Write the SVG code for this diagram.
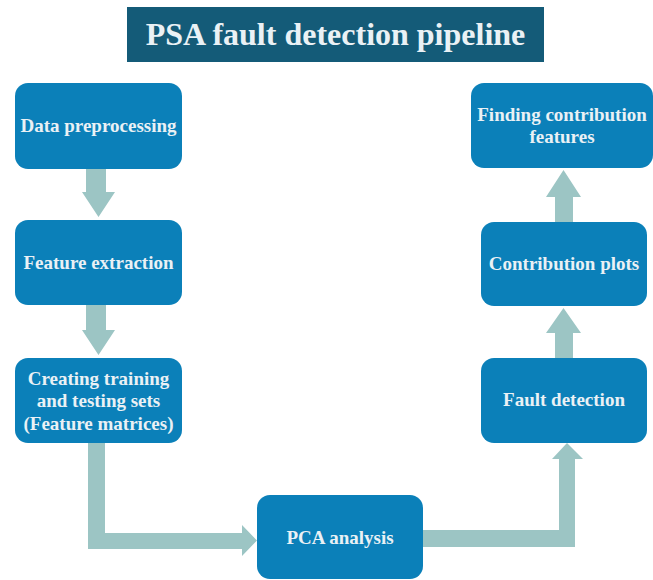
<svg xmlns="http://www.w3.org/2000/svg" width="653" height="580" viewBox="0 0 653 580">
<style>
.box{fill:#0b80b9}
.t{font-family:"Liberation Serif","Times New Roman",serif;font-weight:bold;font-size:19px;fill:#eaf1f5;text-anchor:middle}
.ar{fill:#9cc5c4}
</style>
<rect width="653" height="580" fill="#ffffff"/>
<g id="title">
<rect x="127" y="7" width="417" height="55" fill="#145b78"/>
<text x="335.5" y="45" class="t" style="font-size:32px">PSA fault detection pipeline</text>
</g>
<g id="connectors">
<path class="ar" d="M86 169 H106 V192 H115 L98.5 217 L82 192 H86 Z"/>
<path class="ar" d="M86 305 H106 V330 H115 L98.5 355 L82 330 H86 Z"/>
<path class="ar" d="M88 443 H105 V533 H242 V525 L257 540.5 L242 556 V549 H88 Z"/>
<path class="ar" d="M423 530 H559 V459 H552 L567 443 L583 459 H575 V547 H423 Z"/>
<path class="ar" d="M555 358 V333 H546 L563.5 308 L581 333 H573 V358 Z"/>
<path class="ar" d="M555 222 V197 H546 L563.5 170 L581 197 H573 V222 Z"/>
</g>
<g id="n1"><rect class="box" x="15" y="83" width="167" height="86" rx="13"/><text class="t" x="98.5" y="132">Data preprocessing</text></g>
<g id="n2"><rect class="box" x="15" y="220" width="167" height="85" rx="13"/><text class="t" x="98.5" y="269">Feature extraction</text></g>
<g id="n3"><rect class="box" x="15" y="358" width="167" height="85" rx="13"/><text class="t" x="98.5" y="385">Creating training</text><text class="t" x="98.5" y="407">and testing sets</text><text class="t" x="98.5" y="430">(Feature matrices)</text></g>
<g id="n4"><rect class="box" x="257" y="495" width="166" height="84" rx="13"/><text class="t" x="340" y="544">PCA analysis</text></g>
<g id="n5"><rect class="box" x="481" y="358" width="166" height="85" rx="13"/><text class="t" x="564" y="406">Fault detection</text></g>
<g id="n6"><rect class="box" x="481" y="222" width="166" height="84" rx="13"/><text class="t" x="564" y="270">Contribution plots</text></g>
<g id="n7"><rect class="box" x="471" y="83" width="182" height="85" rx="13"/><text class="t" x="562" y="121">Finding contribution</text><text class="t" x="562" y="143">features</text></g>
</svg>
